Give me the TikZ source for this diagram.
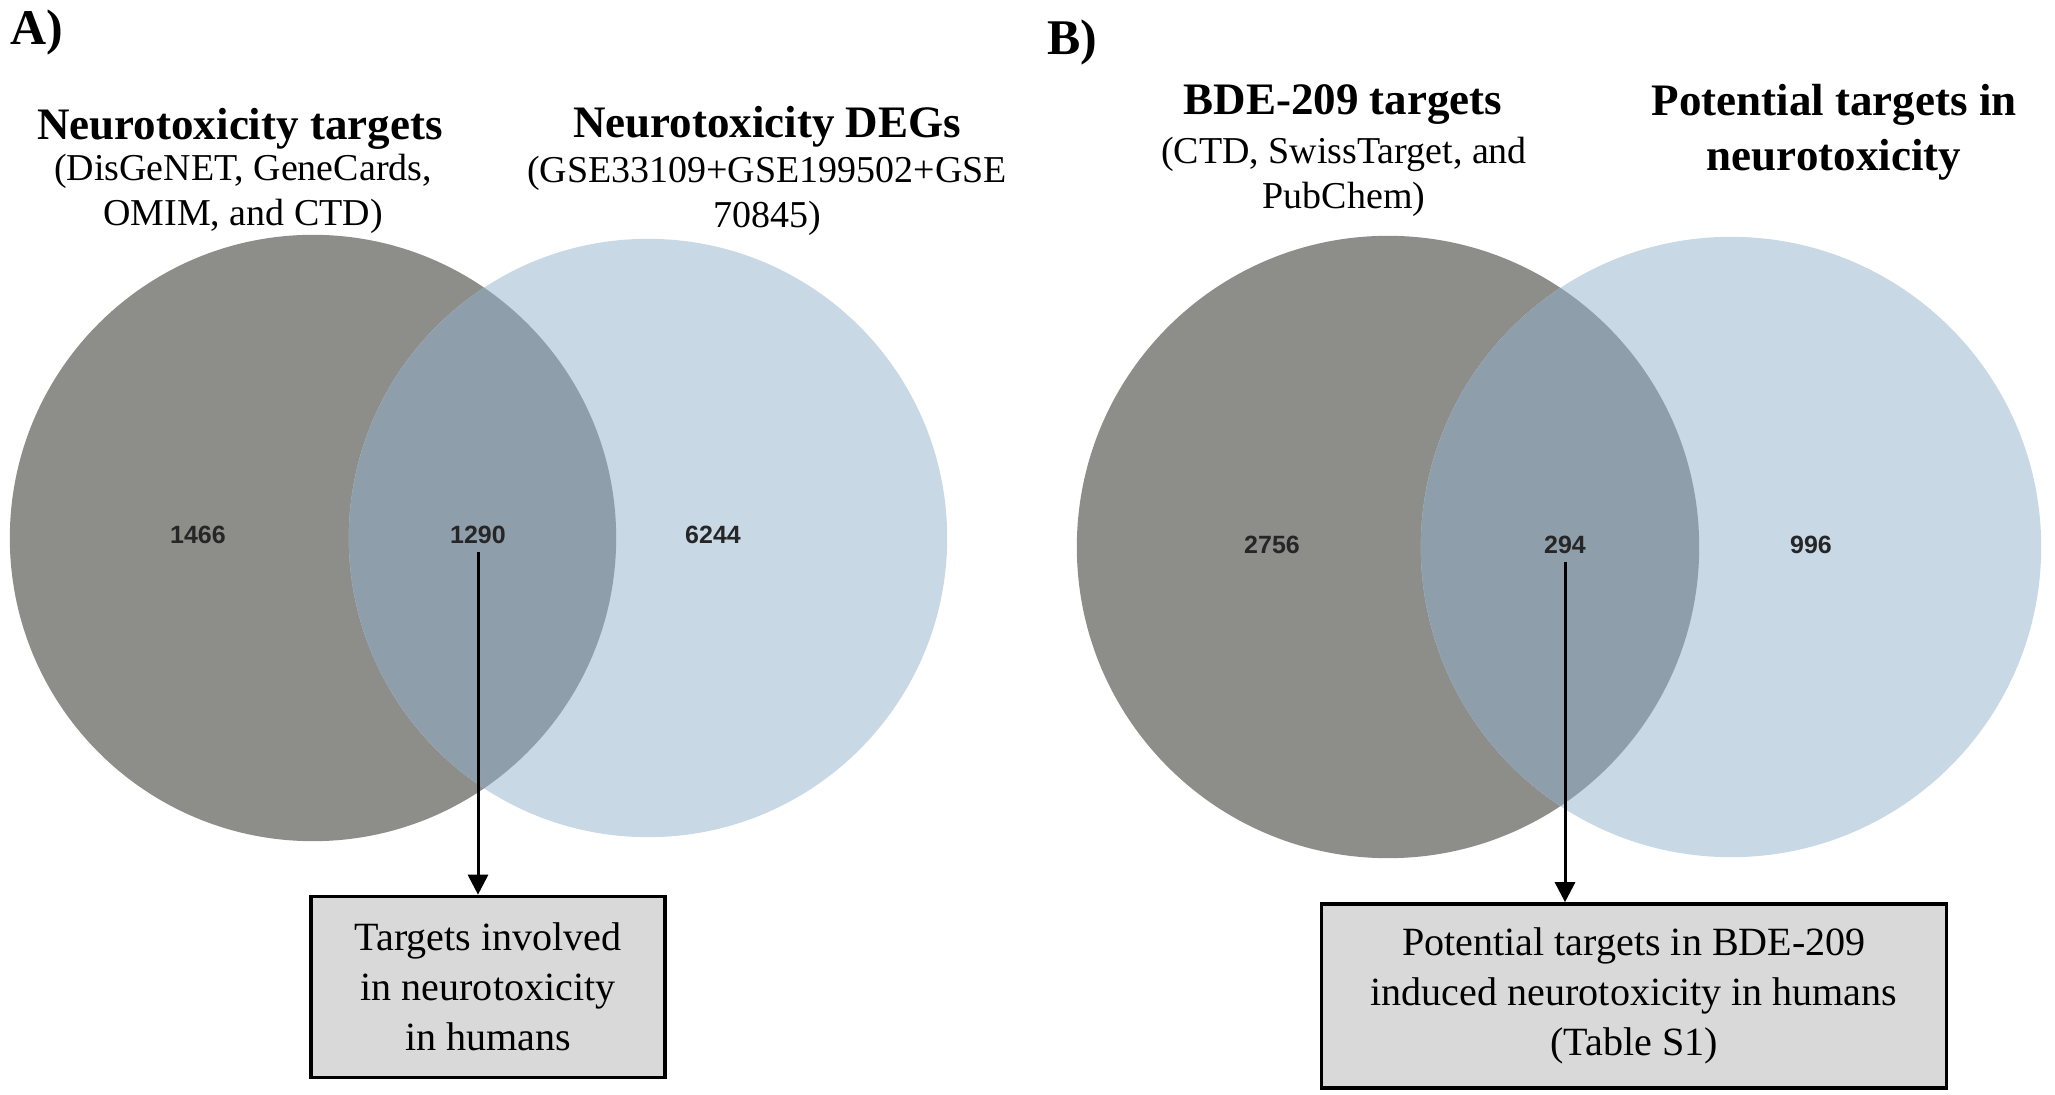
\documentclass[tikz,border=0pt]{standalone}
\usepackage{fontspec}
\setmainfont{Liberation Serif}
\newfontfamily\numfont{Liberation Sans}
\usepackage{tikz}
\usetikzlibrary{arrows.meta}
\definecolor{vennGray}{RGB}{141,141,138}
\definecolor{vennBlue}{RGB}{200,216,229}
\definecolor{vennBoth}{RGB}{142,158,171}
\definecolor{boxGray}{RGB}{217,217,217}

\begin{document}
\begin{tikzpicture}[x=0.01cm, y=-0.01cm]
		\tikzset{
		    panel/.style= {font=\fontsize{14.2}{17}\selectfont\bfseries, anchor=base, inner sep=0},
		    settitle/.style= {font=\fontsize{12.8}{15.4}\selectfont\bfseries, align=center, inner sep=0},
		    setsrc/.style= {font=\fontsize{10.8}{12.8}\selectfont, align=center, inner sep=0, anchor=north},
		    count/.style= {font=\numfont\fontsize{7.1}{8}\selectfont\bfseries, text=black!85, inner sep=2pt},
		    result/.style= {rectangle, draw=black, line width=1pt, fill=boxGray, align=center, font=\fontsize{11.4}{14.2}\selectfont},
		    pointer/.style= {-{Triangle[length=0.2cm, width=0.2cm]}, line width=0.85pt},
		}
		\useasboundingbox (0,0) rectangle (2055,1095);
		
		% panel A
		\fill[vennGray] (313,538) circle[radius=3.03cm];
		\fill[vennBlue] (648,538) circle[radius=2.99cm];
		\begin{scope}
		    \clip (313,538) circle[radius=3.03cm];
		    \fill[vennBoth] (648,538) circle[radius=2.99cm];
		\end{scope}
		
		% panel B
		\fill[vennGray] (1388,547) circle[radius=3.11cm];
		\fill[vennBlue] (1731,547) circle[radius=3.10cm];
		\begin{scope}
		    \clip (1388,547) circle[radius=3.11cm];
		    \fill[vennBoth] (1731,547) circle[radius=3.10cm];
		\end{scope}
		
		\node[panel] (labA) at (37,45) {A)};
		\node[panel] (labB) at (1072,55) {B)};
		
		\node[settitle, anchor=base] (titA1) at (240,140) {Neurotoxicity targets};
		\node[setsrc] (srcA1) at (243,153) {(DisGeNET, GeneCards,\\OMIM, and CTD)};
		\node[settitle, anchor=base] (titA2) at (767,138) {Neurotoxicity DEGs};
		\node[setsrc] (srcA2) at (767,155) {(GSE33109+GSE199502+GSE\\70845)};
		
		\node[settitle, anchor=base] (titB1) at (1343,115) {BDE-209 targets};
		\node[setsrc] (srcB1) at (1344,136) {(CTD, SwissTarget, and\\PubChem)};
		\node[settitle, anchor=north, font=\fontsize{12.8}{15.4}\selectfont\bfseries] (titB2) at (1834,84) {Potential targets in\\neurotoxicity};
		
		\node[count] (nA1) at (198,535) {1466};
		\node[count] (nA12) at (478,535) {1290};
		\node[count] (nA2) at (713,535) {6244};
		\node[count] (nB1) at (1272,545) {2756};
		\node[count] (nB12) at (1565,545) {294};
		\node[count] (nB2) at (1811,545) {996};
		
		\node[result, minimum width=3.54cm, minimum height=1.81cm] (boxA) at (488,987) {Targets involved\\in neurotoxicity\\in humans};
		\node[result, minimum width=6.25cm, minimum height=1.84cm] (boxB) at (1634,996) {Potential targets in BDE-209\\induced neurotoxicity  in humans\\(Table S1)};
		
		\draw[pointer] (nA12.south) -- (nA12.south |- boxA.north);
		\draw[pointer] (nB12.south) -- (nB12.south |- boxB.north);
	\end{tikzpicture}
\end{document}
